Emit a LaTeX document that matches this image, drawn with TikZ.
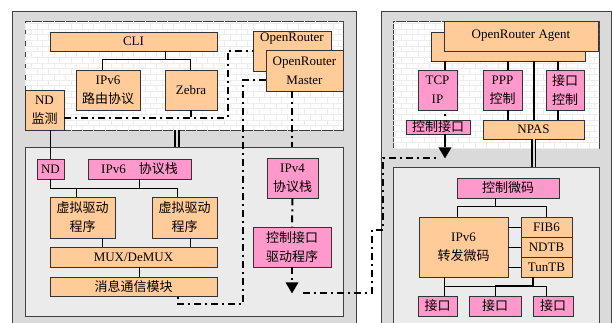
\documentclass[tikz,border=0pt]{standalone}
\usepackage{fontspec}
\setmainfont{Liberation Serif}
\newfontfamily\cjk{Noto Sans CJK SC}
\usetikzlibrary{arrows.meta,patterns}
\definecolor{boxOrange}{RGB}{255,204,153}
\definecolor{boxPink}{RGB}{255,153,204}
\definecolor{panelGray}{RGB}{218,218,218}
\definecolor{layerGray}{RGB}{235,235,235}
\newcommand{\zh}[1]{{\cjk #1}}
\tikzset{
  obox/.style={draw=black!80,line width=0.8pt,fill=boxOrange,inner sep=0pt,align=center,font=\fontsize{13}{19}\selectfont},
  pbox/.style={obox,fill=boxPink},
  panel/.style={draw=black!75,line width=0.8pt,fill=panelGray,inner sep=0pt},
  layer/.style={draw=black!75,line width=0.8pt,fill=layerGray,inner sep=0pt},
  brickwall/.style={draw=black!75,line width=0.8pt,fill=white,inner sep=0pt,postaction={pattern=bricks,pattern color=black!7}},
  link/.style={line width=0.8pt},
  bus/.style={line width=2pt},
  trunk/.style={double=panelGray,double distance=2pt,line width=1.7pt},
  ctlline/.style={line width=2pt,dash pattern=on 7pt off 4pt on 2pt off 4pt},
  tip/.style={-{Triangle[length=11pt,width=13pt,line width=0pt]}},
}
\begin{document}
\begin{tikzpicture}[x=1pt,y=-1pt]
        \useasboundingbox (0,0) rectangle (612,322);
        \clip (0,0) rectangle (612,322);
        \node[panel,minimum width=344pt,minimum height=320pt] (outerL) at (184,171) {};
        \node[brickwall,minimum width=318pt,minimum height=109pt] (upL) at (184,75.5) {};
        \node[layer,minimum width=318pt,minimum height=169pt] (lowL) at (184,231.5) {};
        \node[panel,minimum width=230pt,minimum height=320pt] (outerR) at (496,171) {};
        \node[brickwall,minimum width=206pt,minimum height=127pt] (upR) at (496,84.5) {};
        \node[layer,minimum width=206pt,minimum height=164pt] (lowR) at (496,249) {};

        \node[obox,minimum width=167pt,minimum height=19pt] (cli) at (133.5,41.5) {CLI};
        \node[obox,minimum width=64pt,minimum height=40pt] (ipv6r) at (108,90) {IPv6\\\zh{路由协议}};
        \node[obox,minimum width=52pt,minimum height=40pt] (zebra) at (191,90) {Zebra};
        \node[obox,minimum width=39pt,minimum height=40pt] (ndmon) at (44.5,110) {ND\\\zh{监测}};
        \node[obox,minimum width=78pt,minimum height=40pt,label={[anchor=north,inner sep=2pt,font=\fontsize{13}{19}\selectfont]north:OpenRouter}] (orBack) at (292,51) {};
        \node[obox,minimum width=77pt,minimum height=41pt] (orMaster) at (304.5,70.5) {OpenRouter\\Master};

        \node[pbox,minimum width=27pt,minimum height=20pt] (nd) at (50.5,169) {ND};
        \node[pbox,minimum width=103pt,minimum height=20pt] (ipv6s) at (139.5,169) {IPv6\quad\zh{协议栈}};
        \node[obox,minimum width=65pt,minimum height=41pt] (vd1) at (82.5,217.5) {\zh{虚拟驱动}\\\zh{程序}};
        \node[obox,minimum width=65pt,minimum height=41pt] (vd2) at (184.5,217.5) {\zh{虚拟驱动}\\\zh{程序}};
        \node[obox,minimum width=167pt,minimum height=20pt] (mux) at (133.5,257) {MUX/DeMUX};
        \node[obox,minimum width=167pt,minimum height=19pt] (msg) at (133.5,286.5) {\zh{消息通信模块}};
        \node[pbox,minimum width=51pt,minimum height=40pt] (ipv4) at (292.5,178) {IPv4\\\zh{协议栈}};
        \node[pbox,minimum width=78pt,minimum height=40pt] (ctldrv) at (292,247) {\zh{控制接口}\\\zh{驱动程序}};

        \node[obox,minimum width=154pt,minimum height=29pt] (agentB) at (508,46.5) {};
        \node[obox,minimum width=154pt,minimum height=30pt] (agent) at (521,36) {OpenRouter Agent};
        \node[pbox,minimum width=39pt,minimum height=40pt] (tcp) at (437.5,90) {TCP\\IP};
        \node[pbox,minimum width=39pt,minimum height=40pt] (ppp) at (502.5,90) {PPP\\\zh{控制}};
        \node[pbox,minimum width=38pt,minimum height=40pt] (ifctl) at (565,90) {\zh{接口}\\\zh{控制}};
        \node[pbox,minimum width=64pt,minimum height=14pt] (ctlif) at (438,127) {\zh{控制接口}};
        \node[obox,minimum width=101pt,minimum height=19pt] (npas) at (533.5,129.5) {NPAS};

        \node[pbox,minimum width=102pt,minimum height=20pt] (ucode) at (508,188) {\zh{控制微码}};
        \node[obox,minimum width=89pt,minimum height=60pt] (fwd) at (463.5,247) {IPv6\\\zh{转发微码}};
        \node[obox,minimum width=51pt,minimum height=20pt] (fib) at (546.5,227) {FIB6};
        \node[obox,minimum width=51pt,minimum height=20pt] (ndtb) at (546.5,247) {NDTB};
        \node[obox,minimum width=51pt,minimum height=20pt] (tun) at (546.5,267) {TunTB};
        \node[pbox,minimum width=39pt,minimum height=20pt] (if1) at (437.5,306) {\zh{接口}};
        \node[pbox,minimum width=52pt,minimum height=20pt] (if2) at (495,306) {\zh{接口}};
        \node[pbox,minimum width=40pt,minimum height=20pt] (if3) at (553,306) {\zh{接口}};

        \draw[link] ([xshift=31.5pt]cli.south) -- ++(0,9);
        \draw[link] ([xshift=-6pt]ipv6r.north) -- ++(0,-10) -| ([xshift=-1pt]zebra.north);
        \draw[link] (nd.north) -- (nd.north |- ndmon.south);
        \draw[link] (nd.south) -- ++(0,9) -| ([xshift=-7.5pt]vd2.north);
        \draw[link] ([xshift=-6.5pt]vd1.north) -- ++(0,-9);
        \draw[link] (ipv6s.south) -- ++(0,9);
        \draw[link] ([xshift=19.5pt]vd1.south) -- ++(0,9);
        \draw[link] ([xshift=5.5pt]vd2.south) -- ++(0,9);
        \draw[link] ([xshift=5.5pt]mux.south) -- ++(0,10);

        \draw[ctlline] ([yshift=-8pt]ndmon.east) -| ([xshift=-25pt]orBack.west) -- (orBack.west);
        \draw[ctlline] (zebra.south) -- ++(0,8);
        \draw[ctlline] ([yshift=-9.5pt]orMaster.west) -- ++(-23,0) |- ([xshift=44.5pt,yshift=-8pt]msg.south) -- ([xshift=44.5pt]msg.south);
        \draw[ctlline] ([xshift=-12.5pt]orMaster.south) -- ++(0,56);
        \draw[ctlline] (ipv4.south) -- (ctldrv.north);
        \draw[ctlline,tip] (ctldrv.south) -- ++(0,26) coordinate (tipL);

        \draw[bus] ([xshift=7.5pt]tcp.north) -- ++(0,-9);
        \draw[bus] ([xshift=5.5pt]ppp.north) -- ++(0,-9);
        \draw[bus] ([xshift=-7pt]ifctl.north) -- ++(0,-9);
        \draw[bus] (npas.north) -- ++(0,-59);
        \draw[bus] ([xshift=5.5pt]ppp.south) -- ++(0,10);
        \draw[bus] ([xshift=-7pt]ifctl.south) -- ++(0,10);
        \draw[ctlline,dash phase=7pt] ([xshift=7.5pt]tcp.south) -- ++(0,10);
        \draw[bus,tip] ([xshift=7pt]ctlif.south) -- ++(0,24) coordinate (tipR);
        \draw[ctlline] ([xshift=11pt]tipL) -- ++(69,0) -- ++(0,-63) -- ++(11,0) |- ([xshift=-7pt]tipR);

        \draw[trunk] ([xshift=-7pt]upL.south) -- ([xshift=-7pt]lowL.north);
        \draw[trunk] (npas.south) -- (npas.south |- lowR.north);

        \draw[link] ([xshift=-13pt]ucode.south) -- ++(0,9);
        \draw[link] ([xshift=-6.5pt]fwd.north) -- ++(0,-10) -| ([xshift=-0.5pt]fib.north);
        \draw[link] (fwd.east |- fib.west) -- (fib.west);
        \draw[link] (fwd.east |- ndtb.west) -- (ndtb.west);
        \draw[link] (fwd.east |- tun.west) -- (tun.west);
        \draw[link] ([xshift=-19.5pt]fwd.south) -- ++(0,9) -| ([xshift=-7pt]if3.north);
        \draw[link] ([xshift=6.5pt]if1.north) -- ++(0,-10);
        \draw[link] (if2.north) -- ++(0,-10);
        \draw[line width=1.6pt] ([xshift=-13.5pt]tun.south) -- ++(0,8) -- ++(-38,0);
      \end{tikzpicture}
\end{document}
